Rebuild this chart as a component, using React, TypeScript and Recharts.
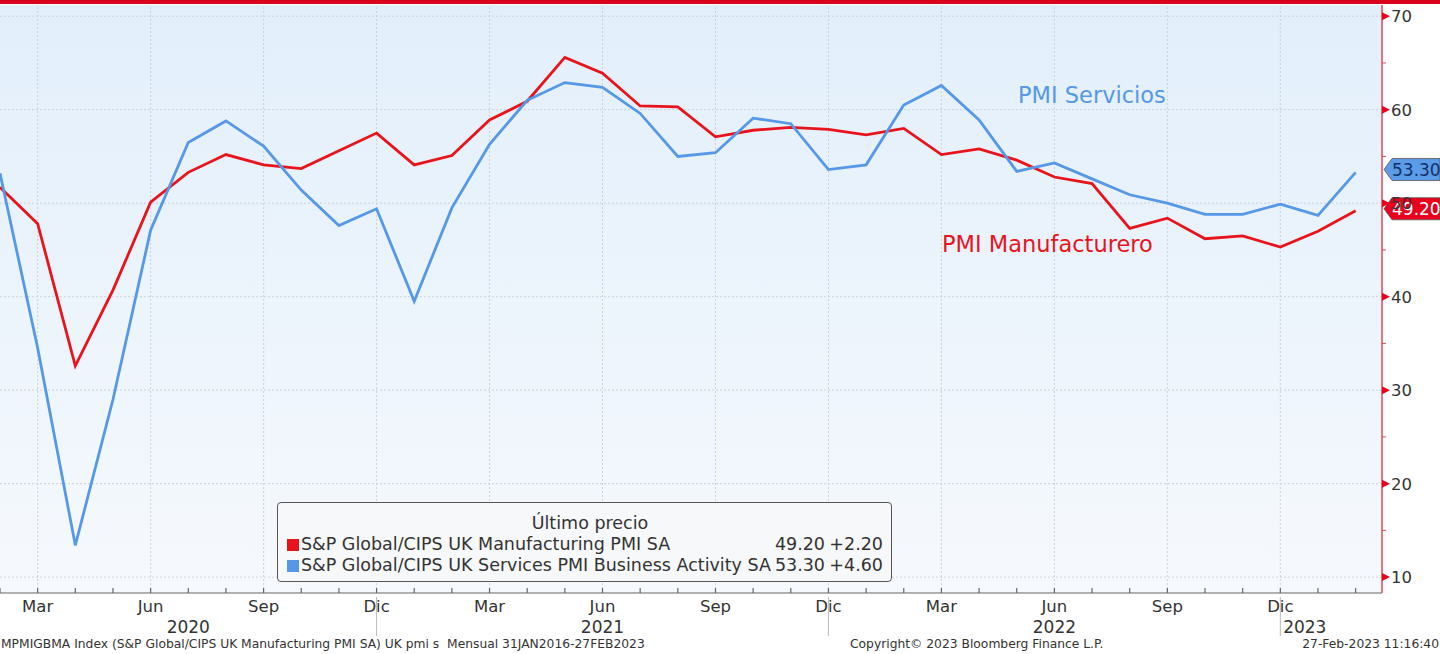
import React from "react"
import {
  LineChart,
  Line,
  XAxis,
  YAxis,
  ReferenceLine,
  ReferenceDot,
} from "recharts"

// monthly readings, Feb 2020 .. Feb 2023
const months = [
  "Feb 2020", "Mar 2020", "Abr 2020", "May 2020", "Jun 2020", "Jul 2020", "Ago 2020", "Sep 2020",
  "Oct 2020", "Nov 2020", "Dic 2020", "Ene 2021", "Feb 2021", "Mar 2021", "Abr 2021", "May 2021",
  "Jun 2021", "Jul 2021", "Ago 2021", "Sep 2021", "Oct 2021", "Nov 2021", "Dic 2021", "Ene 2022",
  "Feb 2022", "Mar 2022", "Abr 2022", "May 2022", "Jun 2022", "Jul 2022", "Ago 2022", "Sep 2022",
  "Oct 2022", "Nov 2022", "Dic 2022", "Ene 2023", "Feb 2023",
]
const manufacturing = [
  51.7, 47.8, 32.6, 40.7, 50.1, 53.3, 55.2, 54.1, 53.7, 55.6, 57.5, 54.1, 55.1, 58.9, 60.9, 65.6,
  63.9, 60.4, 60.3, 57.1, 57.8, 58.1, 57.9, 57.3, 58.0, 55.2, 55.8, 54.6, 52.8, 52.1, 47.3, 48.4,
  46.2, 46.5, 45.3, 47.0, 49.2,
]
const services = [
  53.2, 34.5, 13.4, 29.0, 47.1, 56.5, 58.8, 56.1, 51.4, 47.6, 49.4, 39.5, 49.5, 56.3, 61.0, 62.9,
  62.4, 59.6, 55.0, 55.4, 59.1, 58.5, 53.6, 54.1, 60.5, 62.6, 58.9, 53.4, 54.3, 52.6, 50.9, 50.0,
  48.8, 48.8, 49.9, 48.7, 53.3,
]

const quarterIdx = [1, 4, 7, 10, 13, 16, 19, 22, 25, 28, 31, 34]
const quarterLabels = ["Mar", "Jun", "Sep", "Dic", "Mar", "Jun", "Sep", "Dic", "Mar", "Jun", "Sep", "Dic"]
const yearLabels = ["2020", "2021", "2022", "2023"]
const yearPos = [5, 16, 28, 34.65]
const yearSeparators = [10, 22, 34]
const yMajor = [10, 20, 30, 40, 50, 60, 70]
const yTicks = [10, 15, 20, 25, 30, 35, 40, 45, 50, 55, 60, 65, 70]

const RED = "#e8141c"
const BLUE = "#5598e8"
const FONT = "'DejaVu Sans', Verdana, sans-serif"

const data = months.map((m, i) => ({
  i,
  name: m,
  manuf: manufacturing[i],
  serv: services[i],
}))

const xTicks = Array.from(new Set([...months.map((_, i) => i), ...yearPos])).sort((a, b) => a - b)

const XTick = (props: any) => {
  const { x, y, payload } = props
  const v = payload.value
  const q = quarterIdx.indexOf(v)
  const yi = yearPos.indexOf(v)
  return (
    <g>
      {Number.isInteger(v) && <line x1={x} x2={x} y1={y} y2={y - 5} stroke="#666" strokeWidth={1.2} />}
      {yearSeparators.includes(v) && <line x1={x} x2={x} y1={y + 4} y2={y + 43} stroke="#bbb" strokeWidth={1} />}
      {q >= 0 && (
        <text x={x} y={y + 19} textAnchor="middle" fontSize={16.5} fill="#333" fontFamily={FONT}>
          {quarterLabels[q]}
        </text>
      )}
      {yi >= 0 && (
        <text x={x} y={y + 40} textAnchor="middle" fontSize={17} fill="#333" fontFamily={FONT}>
          {yearLabels[yi]}
        </text>
      )}
    </g>
  )
}

const YTick = (props: any) => {
  const { x, y, payload } = props
  const v = payload.value
  if (!yMajor.includes(v)) {
    return <line x1={x} x2={x + 4} y1={y} y2={y} stroke="#e04a5a" strokeWidth={1} />
  }
  return (
    <g>
      <polygon points={`${x},${y - 4} ${x + 8},${y} ${x},${y + 4}`} fill="#e8001c" />
      <text x={x + 9} y={y + 6} fontSize={16.5} fill="#333" fontFamily={FONT}>
        {v}
      </text>
    </g>
  )
}

const Tag = ({ cx, cy, fill, color, text }: any) => (
  <g>
    <polygon
      points={`${cx + 2},${cy} ${cx + 10},${cy - 11} 1440,${cy - 11} 1440,${cy + 11} ${cx + 10},${cy + 11}`}
      fill={fill}
      stroke="#555"
      strokeWidth={0.8}
    />
    <text x={cx + 10} y={cy + 6.5} fontSize={17} fill={color} fontFamily={FONT}>
      {text}
    </text>
  </g>
)

export default function App() {
  return (
    <div style={{ position: "relative", width: 1440, height: 654, background: "#fff", fontFamily: FONT, overflow: "hidden" }}>
      <style>{"body{margin:0}"}</style>
      <div style={{ position: "absolute", left: 0, top: 0, width: 1440, height: 4, background: "#d9001b" }} />
      <div
        style={{
          position: "absolute",
          left: 0,
          top: 5,
          width: 1382,
          height: 588,
          background: "linear-gradient(#e2effb, #f6f9fd)",
        }}
      />
      <div style={{ position: "absolute", left: 0, top: 0 }}>
        <LineChart width={1440} height={654} data={data} margin={{ top: 5, right: 0, bottom: 0, left: 0 }}>
          {yMajor.map((v) => (
            <ReferenceLine key={"h" + v} y={v} stroke="#c9d2dc" strokeDasharray="2 2" />
          ))}
          {quarterIdx.map((v) => (
            <ReferenceLine key={"v" + v} x={v} stroke="#c9d2dc" strokeDasharray="2 2" />
          ))}
          <XAxis
            dataKey="i"
            type="number"
            domain={[0, 36.7]}
            ticks={xTicks}
            interval={0}
            height={61}
            tickSize={0}
            tickMargin={0}
            axisLine={{ stroke: "#666", strokeWidth: 1.2 }}
            tickLine={false}
            tick={<XTick />}
            allowDataOverflow
          />
          <YAxis
            orientation="right"
            type="number"
            domain={[8.3, 71.2]}
            ticks={yTicks}
            interval={0}
            width={58}
            tickSize={0}
            tickMargin={0}
            axisLine={{ stroke: "#e04a5a", strokeWidth: 1.5 }}
            tickLine={false}
            tick={<YTick />}
            allowDataOverflow
          />
          <Line
            type="linear"
            dataKey="manuf"
            stroke={RED}
            strokeWidth={2.8}
            dot={false}
            isAnimationActive={false}
          />
          <Line
            type="linear"
            dataKey="serv"
            stroke={BLUE}
            strokeWidth={2.8}
            dot={false}
            isAnimationActive={false}
          />
          <ReferenceDot
            x={36.7}
            y={services[services.length - 1] + 0.3}
            r={0}
            ifOverflow="visible"
            shape={(p: any) => <Tag cx={p.cx} cy={p.cy} fill="#5b9be8" color="#12306a" text="53.30" />}
          />
          <ReferenceDot
            x={36.7}
            y={manufacturing[manufacturing.length - 1] + 0.2}
            r={0}
            ifOverflow="visible"
            shape={(p: any) => <Tag cx={p.cx} cy={p.cy} fill="#e8001c" color="#fff" text="49.20" />}
          />
        </LineChart>
      </div>

      <div style={{ position: "absolute", left: 1018, top: 82, fontSize: 22.5, color: BLUE }}>PMI Servicios</div>
      <div style={{ position: "absolute", left: 942, top: 231, fontSize: 22.5, color: RED }}>PMI Manufacturero</div>

      <div
        style={{
          position: "absolute",
          left: 277,
          top: 502,
          width: 615,
          height: 80,
          border: "1px solid #555",
          borderRadius: 4,
          background: "#f7f8fa",
          fontSize: 17.5,
          color: "#333",
          lineHeight: "21px",
          boxSizing: "border-box",
          padding: "10px 8px 0 9px",
        }}
      >
        <div style={{ textAlign: "center", marginLeft: 10 }}>Último precio</div>
        {[
          { c: RED, n: "S&P Global/CIPS UK Manufacturing PMI SA", v: "49.20", d: "+2.20" },
          { c: BLUE, n: "S&P Global/CIPS UK Services PMI Business Activity SA", v: "53.30", d: "+4.60" },
        ].map((r) => (
          <div key={r.n} style={{ display: "flex", alignItems: "center" }}>
            <span style={{ width: 12, height: 12, background: r.c, marginRight: 2, flexShrink: 0 }} />
            <span style={{ flex: 1, whiteSpace: "nowrap" }}>{r.n}</span>
            <span style={{ whiteSpace: "nowrap", textAlign: "right" }}>{r.v}</span>
            <span style={{ width: 58, textAlign: "right", flexShrink: 0 }}>{r.d}</span>
          </div>
        ))}
      </div>

      <div style={{ position: "absolute", left: 1, top: 637, fontSize: 12.3, color: "#333", whiteSpace: "pre" }}>
        {"MPMIGBMA Index (S&P Global/CIPS UK Manufacturing PMI SA) UK pmi s  Mensual 31JAN2016-27FEB2023"}
      </div>
      <div style={{ position: "absolute", left: 850, top: 637, fontSize: 12.3, color: "#333" }}>
        Copyright© 2023 Bloomberg Finance L.P.
      </div>
      <div style={{ position: "absolute", right: 1, top: 637, fontSize: 12.3, color: "#333" }}>
        27-Feb-2023 11:16:40
      </div>
    </div>
  )
}
